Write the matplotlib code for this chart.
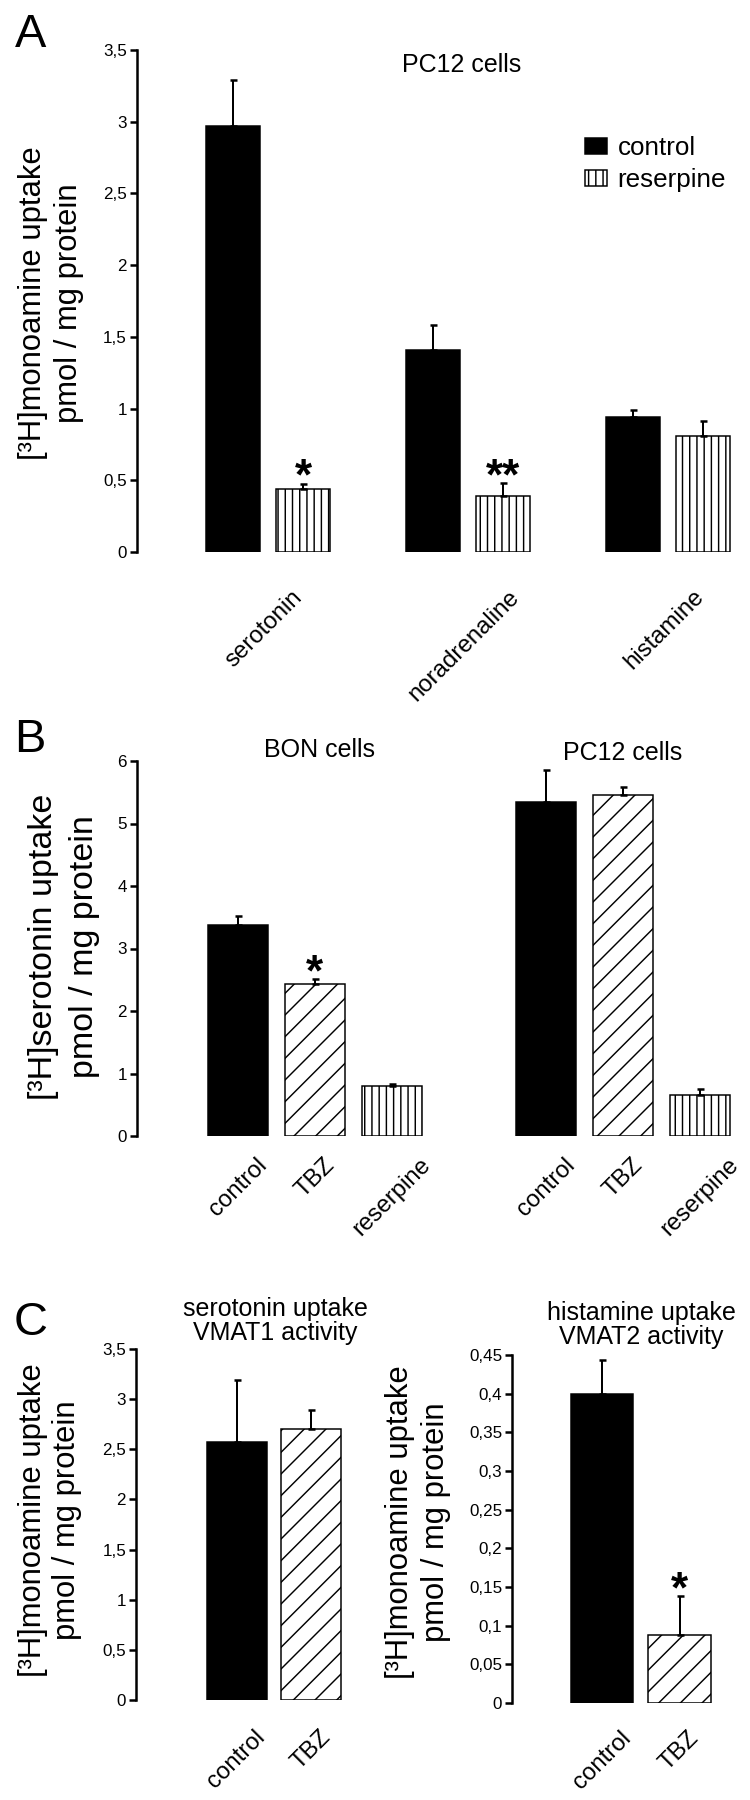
import matplotlib
matplotlib.use('Agg')
import matplotlib.pyplot as plt
import matplotlib.ticker as mt
import matplotlib.transforms as mtrans
import numpy as np

plt.rcParams['font.family'] = ['Liberation Sans', 'DejaVu Sans']
plt.rcParams['hatch.linewidth'] = 0.8

DPI = 130
W, H = 750, 1800


def pt(px):
    # pixel size -> points at this dpi
    return px * 72.0 / DPI


# panel A: PC12 cells, monoamine uptake
a_groups = ['serotonin', 'noradrenaline', 'histamine']
a_control = [2.97, 1.41, 0.94]
a_control_err = [0.32, 0.17, 0.05]
a_reserpine = [0.44, 0.39, 0.81]
a_reserpine_err = [0.035, 0.09, 0.105]
a_stars = ['*', '**', '']

# panel B: serotonin uptake in BON and PC12 cells
b_labels = ['control', 'TBZ', 'reserpine']
b_bon = [3.37, 2.44, 0.80]
b_bon_err = [0.15, 0.07, 0.03]
b_bon_stars = ['', '*', '']
b_pc12 = [5.34, 5.46, 0.65]
b_pc12_err = [0.51, 0.13, 0.11]

# panel C: VMAT1 / VMAT2 activity
c_labels = ['control', 'TBZ']
c_vmat1 = [2.57, 2.70]
c_vmat1_err = [0.62, 0.19]
c_vmat2 = [0.399, 0.088]
c_vmat2_err = [0.045, 0.050]
c_vmat2_stars = ['', '*']

fig = plt.figure(figsize=(W / DPI, H / DPI), dpi=DPI)


def fx(px):
    return px / W


def fy(py):
    return 1 - py / H


def add_axes(left, top, right, bottom):
    return fig.add_axes([fx(left), fy(bottom), (right - left) / W, (bottom - top) / H])


def comma(v, pos):
    return ('%g' % v).replace('.', ',')


def style(ax, ymax, step, xlim):
    ax.set_ylim(0, ymax)
    ax.set_xlim(*xlim)
    ax.set_yticks(np.arange(0, ymax + step / 2, step))
    ax.yaxis.set_major_formatter(mt.FuncFormatter(comma))
    for s in ['top', 'right', 'bottom']:
        ax.spines[s].set_visible(False)
    ax.spines['left'].set_linewidth(pt(2.5))
    ax.tick_params(axis='y', length=pt(7), width=pt(2.5), pad=pt(3), labelsize=pt(17))
    ax.patch.set_alpha(0)


def xlabels(ax, pos, labels, pad_px, dx_px=0):
    ax.set_xticks(pos)
    ax.set_xticklabels(labels, rotation=45, ha='center', fontsize=pt(24))
    ax.tick_params(axis='x', length=0, pad=pt(pad_px))
    for lab in ax.get_xticklabels():
        lab.set_transform(lab.get_transform() +
                          mtrans.ScaledTranslation(dx_px / DPI, 0, fig.dpi_scale_trans))


def bars(ax, x, vals, errs, kind, width):
    if kind == 'control':
        b = ax.bar(x, vals, width, color='black', edgecolor='black', linewidth=pt(1.5))
    else:
        hatch = '|||' if kind == 'reserpine' else '//'
        b = ax.bar(x, vals, width, color='white', edgecolor='black', hatch=hatch,
                   linewidth=pt(1.5))
    ax.errorbar(x, vals, yerr=[np.zeros(len(vals)), errs], fmt='none', ecolor='black',
                elinewidth=pt(2), capsize=pt(3.5), capthick=pt(2.5))
    return b


def stars(ax, x, vals, errs, marks):
    for xi, v, e, m in zip(x, vals, errs, marks):
        if m:
            ax.annotate(m, (xi, v + e), xytext=(0, pt(-6)), textcoords='offset points',
                        ha='center', va='baseline', fontsize=pt(44), fontweight='bold')


def ylabel(text, x, y, size, ls):
    fig.text(fx(x), fy(y), text, rotation=90, ha='center', va='center',
             multialignment='center', fontsize=pt(size), linespacing=ls)


def letter(text, x, y):
    fig.text(fx(x), fy(y), text, ha='left', va='baseline', fontsize=pt(47))


def title(text, x, y, ls=1.0):
    fig.text(fx(x), fy(y), text, ha='center', va='baseline', fontsize=pt(25),
             multialignment='center', linespacing=ls)


# ---------------- A ----------------
ax = add_axes(137, 50, 740, 552)
xa = np.arange(len(a_groups))
style(ax, 3.5, 0.5, (-0.655, 2.36))
h1 = bars(ax, xa - 0.175, a_control, a_control_err, 'control', 0.27)
h2 = bars(ax, xa + 0.175, a_reserpine, a_reserpine_err, 'reserpine', 0.27)
stars(ax, xa + 0.175, a_reserpine, a_reserpine_err, a_stars)
xlabels(ax, xa, a_groups, 34, -4)
ax.legend([h1, h2], ['control', 'reserpine'], loc='upper left',
          bbox_to_anchor=(fx(585), fy(136)), bbox_transform=fig.transFigure,
          frameon=False, fontsize=pt(26), handlelength=22 / 26, handleheight=15 / 26,
          handletextpad=0.4, labelspacing=0.3, borderpad=0, borderaxespad=0)
title('PC12 cells', 462, 72)
ylabel('[³H]monoamine uptake\npmol / mg protein', 51, 303, 31, 1.26)
letter('A', 15, 47)

# ---------------- B ----------------
ax = add_axes(137, 761, 740, 1136)
xb1 = np.arange(3)
xb2 = np.arange(3) + 4
style(ax, 6, 1, (-1.31, 6.52))
kinds = ['control', 'TBZ', 'reserpine']
for i, k in enumerate(kinds):
    bars(ax, xb1[i:i + 1], b_bon[i:i + 1], b_bon_err[i:i + 1], k, 0.78)
    bars(ax, xb2[i:i + 1], b_pc12[i:i + 1], b_pc12_err[i:i + 1], k, 0.78)
stars(ax, xb1, b_bon, b_bon_err, b_bon_stars)
xlabels(ax, np.concatenate([xb1, xb2]), b_labels + b_labels, 18)
title('BON cells', 320, 757)
title('PC12 cells', 623, 760)
ylabel('[³H]serotonin uptake\npmol / mg protein', 64, 947, 34, 1.45)
letter('B', 14, 752)

# ---------------- C ----------------
ax = add_axes(136, 1349, 365, 1700)
xc = np.arange(2)
style(ax, 3.5, 0.5, (-1.35, 1.72))
for i, k in enumerate(['control', 'TBZ']):
    bars(ax, xc[i:i + 1], c_vmat1[i:i + 1], c_vmat1_err[i:i + 1], k, 0.8)
xlabels(ax, xc, c_labels, 26)
title('serotonin uptake\nVMAT1 activity', 275, 1340)
ylabel('[³H]monoamine uptake\npmol / mg protein', 50, 1520, 31, 1.15)
letter('C', 14, 1335)

ax = add_axes(512, 1355, 740, 1703)
style(ax, 0.45, 0.05, (-1.16, 1.78))
for i, k in enumerate(['control', 'TBZ']):
    bars(ax, xc[i:i + 1], c_vmat2[i:i + 1], c_vmat2_err[i:i + 1], k, 0.8)
stars(ax, xc, c_vmat2, c_vmat2_err, c_vmat2_stars)
xlabels(ax, xc, c_labels, 24)
title('histamine uptake\nVMAT2 activity', 641, 1344)
ylabel('[³H]monoamine uptake\npmol / mg protein', 418, 1522, 31, 1.26)

fig.savefig('out.png', dpi=DPI)
